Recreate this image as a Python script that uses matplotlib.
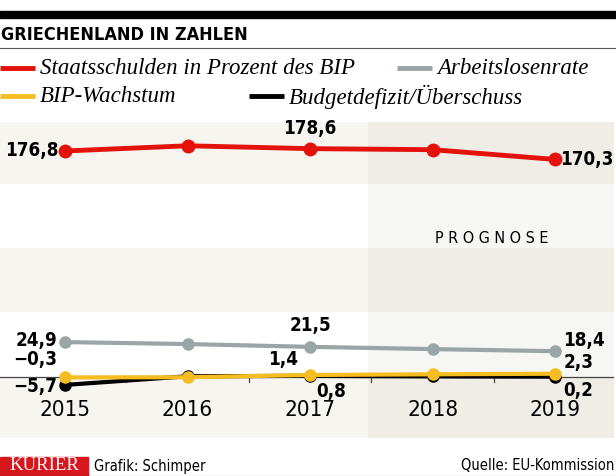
import matplotlib
matplotlib.use('Agg')
import matplotlib.pyplot as plt
from matplotlib.font_manager import fontManager, FontProperties

years = [2015, 2016, 2017, 2018, 2019]
schulden = [176.8, 180.8, 178.6, 177.8, 170.3]
arbeitslos = [24.9, 23.5, 21.5, 19.9, 18.4]
wachstum = [-0.3, -0.2, 1.4, 1.9, 2.3]
budget = [-5.7, 0.5, 0.8, 0.4, 0.2]
year_labels = ['2015', '2016', '2017', '2018', '2019']


def pick(bold):
    # look for some condensed sans installed, else Roboto
    for f in fontManager.ttflist:
        nm = f.name + ' ' + str(f.stretch)
        if ('ondensed' in nm or 'Narrow' in nm) and f.style == 'normal' \
                and 'Serif' not in f.name and 'Mono' not in f.name:
            w = f.weight if isinstance(f.weight, int) else (700 if 'bold' in str(f.weight) else 400)
            if (w >= 600) == bold:
                return FontProperties(fname=f.fname)
    return FontProperties(family='Roboto', weight='bold' if bold else 'normal')


fb = pick(True)
fr = pick(False)

RED = '#e3120b'
GREY = '#9aa5a5'
YEL = '#f5bd1f'
BEIGE = '#f7f5f0'

fig = plt.figure(figsize=(6.16, 4.76), dpi=100)
W, H = 616, 476


def fx(px):
    return px / W


def fy(py):
    return 1 - py / H


# header
fig.patches.append(plt.Rectangle((0, fy(18)), 1, 7 / H, transform=fig.transFigure,
                                 color='black', zorder=0))
fig.text(fx(1), fy(35), 'GRIECHENLAND IN ZAHLEN', fontproperties=fb, fontsize=13,
         va='center', ha='left')
fig.add_artist(plt.Line2D([0, 1], [fy(48), fy(48)], transform=fig.transFigure,
                          color='#555555', lw=0.8))

# legend
leg = [(0, 68, RED, 'Staatsschulden in Prozent des BIP'),
       (397, 68, GREY, 'Arbeitslosenrate'),
       (0, 96, YEL, 'BIP-Wachstum'),
       (249, 96, 'black', 'Budgetdefizit/Überschuss')]
for x0, y0, c, t in leg:
    fig.add_artist(plt.Line2D([fx(x0), fx(x0 + 35)], [fy(y0), fy(y0)],
                              transform=fig.transFigure, color=c, lw=3.5,
                              solid_capstyle='butt'))
    fig.text(fx(x0 + 40), fy(y0 + 1), t, fontsize=16.5, style='italic',
             family='Liberation Serif', va='center', ha='left')

# chart area
ax = fig.add_axes([0, fy(438), fx(614), (438 - 122) / H])
ax.set_xlim(2014.47, 2019.48)
ax.set_ylim(-43.6, 182.1)
ax.set_facecolor('white')
for lo, hi in [(137.9, 182.1), (46.4, 92.1), (-43.6, 0)]:
    ax.axhspan(lo, hi, color=BEIGE, lw=0, zorder=0)
ax.axvspan(2017.47, 2019.48, color='#8c8c73', alpha=0.075, lw=0, zorder=0.5)
ax.text(2018.48, 99, 'P R O G N O S E', fontproperties=fr, fontsize=11.5,
        ha='center', va='center')
for s in ax.spines.values():
    s.set_visible(False)
ax.set_xticks([])
ax.set_yticks([])

ax.axhline(0, color='#444444', lw=0.9, zorder=2)
for xm in [2015.5, 2016.5, 2017.5, 2018.5]:
    ax.plot([xm, xm], [0, -3.5], color='#444444', lw=0.9, zorder=2)

ax.plot(years, arbeitslos, color=GREY, lw=3, marker='o', ms=8, zorder=3)
ax.plot(years, budget, color='black', lw=3, marker='o', ms=8, zorder=4)
ax.plot(years, wachstum, color=YEL, lw=3, marker='o', ms=8, zorder=5)

for x, t in zip(years, year_labels):
    ax.text(x, -23.6, t, fontproperties=fr, fontsize=16, ha='center', va='center')


def lab(a, x, y, t, dx, dy, ha):
    a.annotate(t, (x, y), xytext=(dx, dy), textcoords='offset pixels',
               fontproperties=fb, fontsize=13.5, ha=ha, va='center', zorder=6)


lab(ax, 2015, arbeitslos[0], '24,9', -8, 2, 'right')
lab(ax, 2017, arbeitslos[2], '21,5', 0, 21, 'center')
lab(ax, 2019, arbeitslos[4], '18,4', 8, 11, 'left')
lab(ax, 2015, wachstum[0], '\u22120,3', -8, 18, 'right')
lab(ax, 2015, budget[0], '\u22125,7', -8, -2, 'right')
lab(ax, 2017, wachstum[2], '1,4', -12, 15, 'right')
lab(ax, 2017, budget[2], '0,8', 6, -16, 'left')
lab(ax, 2019, wachstum[4], '2,3', 8, 11, 'left')
lab(ax, 2019, budget[4], '0,2', 8, -14, 'left')

# debt on its own scale (broken axis)
ax2 = ax.twinx()
ax2.set_ylim(-44, 199.1)
ax2.plot(years, schulden, color=RED, lw=3.5, marker='o', ms=9, zorder=3)
ax2.set_yticks([])
for s in ax2.spines.values():
    s.set_visible(False)
lab(ax2, 2015, schulden[0], '176,8', -7, 0, 'right')
lab(ax2, 2017, schulden[2], '178,6', 0, 20, 'center')
lab(ax2, 2019, schulden[4], '170,3', 5, 0, 'left')

# footer
fig.patches.append(plt.Rectangle((0, fy(476)), fx(88), 19 / H, transform=fig.transFigure,
                                 color='#d7161e'))
fig.text(fx(44), fy(466), 'KURIER', color='white', fontsize=13.5, family='Liberation Serif',
         ha='center', va='center')
fig.text(fx(94), fy(466), 'Grafik: Schimper', fontproperties=fr, fontsize=10.5,
         ha='left', va='center')
fig.text(fx(614), fy(466), 'Quelle: EU-Kommission', fontproperties=fr, fontsize=10.5,
         ha='right', va='center')
fig.add_artist(plt.Line2D([0, 1], [fy(475.5), fy(475.5)], transform=fig.transFigure,
                          color='#333333', lw=0.8))

fig.savefig('out.png', dpi=100)
